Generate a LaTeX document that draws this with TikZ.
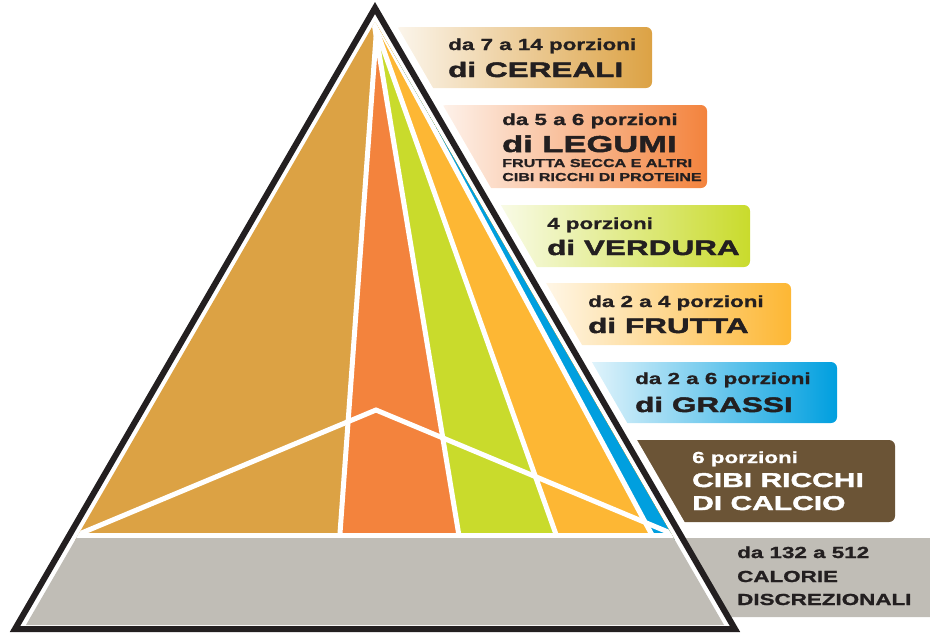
\documentclass[tikz,border=0pt]{standalone}
\usepackage{fontspec}
\usepackage{xcolor}
\usepackage{tikz}

\newfontfamily\smallfont[FakeStretch=1.4,FakeBold=1.2]{Liberation Sans}
\newfontfamily\bigfont[FakeStretch=1.5,FakeBold=2.2]{Liberation Sans}

\definecolor{ink}{HTML}{231F20}
\definecolor{cereali}{HTML}{DCA244}
\definecolor{legumi}{HTML}{F3833D}
\definecolor{verdura}{HTML}{C9DB2C}
\definecolor{frutta}{HTML}{FDB734}
\definecolor{grassi}{HTML}{009FDF}
\definecolor{calcio}{HTML}{6B5436}
\definecolor{grigio}{HTML}{C0BDB6}

\tikzset{
  lbl/.style={anchor=base west,inner sep=0pt,text=ink,
    font=\smallfont\bfseries\fontsize{16}{18}\selectfont},
  lblbig/.style={anchor=base west,inner sep=0pt,text=ink,
    font=\bigfont\bfseries\fontsize{21}{24}\selectfont},
  lbltiny/.style={anchor=base west,inner sep=0pt,text=ink,
    font=\smallfont\bfseries\fontsize{11.5}{13}\selectfont},
  sep/.style={white,line width=5pt},
  tag/.style={rounded corners=6pt}
}

\begin{document}
\begin{tikzpicture}[x=1pt,y=-1pt]
  \useasboundingbox (0,0) rectangle (930,633);

  % label boxes
  \shade[tag,left color=cereali!10,right color=cereali] (395,27) rectangle (652,88);
  \shade[tag,left color=legumi!10,right color=legumi] (440,105) rectangle (707,188);
  \shade[tag,left color=verdura!10,right color=verdura] (495,205) rectangle (750,267);
  \shade[tag,left color=frutta!10,right color=frutta] (540,283) rectangle (791,345);
  \shade[tag,left color=grassi!10,right color=grassi] (585,362) rectangle (837,423);
  \fill[tag,calcio] (620,440) rectangle (895,522);

  % pyramid
  \coordinate (T) at (375,8);
  \coordinate (L) at (15,629);
  \coordinate (R) at (735,629);
  \draw[white,line width=20pt,fill=white] (T) -- (L) -- (R) -- cycle;
  \fill[grigio] (681.8,538) -- (930,538) -- (930,617) -- (727.5,617) -- cycle;

  \begin{scope}
    \clip (375,22) -- (26,625) -- (724,625) -- cycle;
    \fill[cereali] (0,0) rectangle (930,540);
    \fill[legumi] (378.7,0) -- (339.5,540) -- (760,540) -- (760,0) -- cycle;
    \fill[verdura] (370.2,0) -- (459.7,540) -- (760,540) -- (760,0) -- cycle;
    \fill[frutta] (365.9,0) -- (558,540) -- (760,540) -- (760,0) -- cycle;
    \fill[grassi] (364.8,0) -- (654.7,540) -- (760,540) -- (760,0) -- cycle;
    \draw[sep] (378.7,0) -- (339.5,540);
    \draw[sep] (370.2,0) -- (459.7,540);
    \draw[sep] (365.9,0) -- (558,540);
    \draw[sep] (364.8,0) -- (654.7,540);
    \draw[sep] (60,542) -- (376,410) -- (692,542);
    \fill[grigio] (0,535) rectangle (930,633);
    \draw[sep] (0,535.5) -- (930,535.5);
  \end{scope}

  \draw[ink,line width=6pt,line join=miter] (T) -- (L) -- (R) -- cycle;

  % texts
  \node[lbl] (cer1) at (448,50) {da 7 a 14 porzioni};
  \node[lblbig] (cer2) at (448,77) {di CEREALI};
  \node[lbl] (leg1) at (502,125) {da 5 a 6 porzioni};
  \node[lblbig,font=\bigfont\bfseries\fontsize{23}{26}\selectfont] (leg2) at (502,152) {di LEGUMI};
  \node[lbltiny] (leg3) at (502,167) {FRUTTA SECCA E ALTRI};
  \node[lbltiny] (leg4) at (502,181) {CIBI RICCHI DI PROTEINE};
  \node[lbl] (ver1) at (547,229) {4 porzioni};
  \node[lblbig] (ver2) at (547,255) {di VERDURA};
  \node[lbl] (fru1) at (588,307) {da 2 a 4 porzioni};
  \node[lblbig] (fru2) at (588,333) {di FRUTTA};
  \node[lbl] (gra1) at (635,384) {da 2 a 6 porzioni};
  \node[lblbig] (gra2) at (635,412) {di GRASSI};
  \node[lbl,text=white] (cal1) at (692,463) {6 porzioni};
  \node[lblbig,text=white,font=\bigfont\bfseries\fontsize{20}{22}\selectfont] (cal2) at (692,487) {CIBI RICCHI};
  \node[lblbig,text=white,font=\bigfont\bfseries\fontsize{20}{22}\selectfont] (cal3) at (692,510) {DI CALCIO};
  \node[lbl] (dis1) at (737,558) {da 132 a 512};
  \node[lbl] (dis2) at (737,582) {CALORIE};
  \node[lbl] (dis3) at (737,605) {DISCREZIONALI};
\end{tikzpicture}
\end{document}
